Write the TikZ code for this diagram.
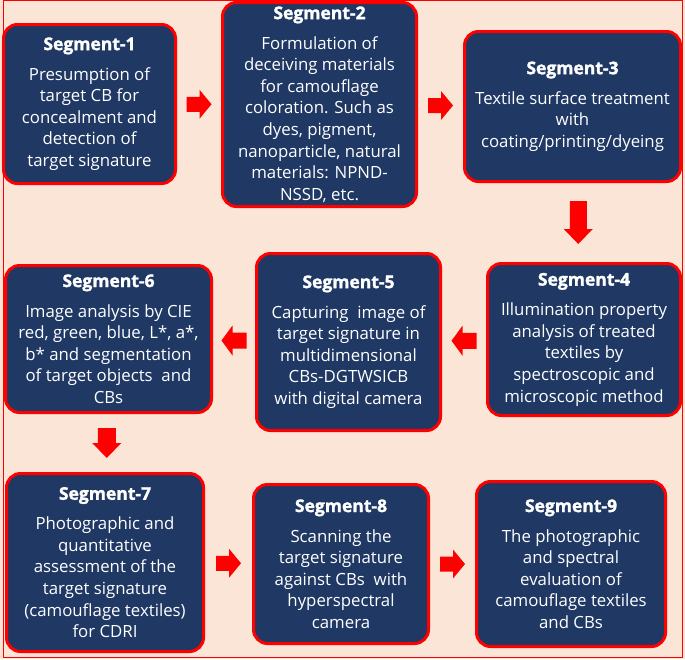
\documentclass[tikz,border=0pt]{standalone}
\usepackage{fontspec}
\setmainfont{Open Sans}
\newfontfamily\hdfont{Open Sans}[BoldFeatures={FakeBold=1.6}]
\usetikzlibrary{calc}
\definecolor{bgpeach}{HTML}{FBE5D6}
\definecolor{navy}{HTML}{1F3864}
\definecolor{brdred}{HTML}{FF0000}
\tikzset{
  seg/.style={draw=brdred, line width=3pt, fill=navy, rounded corners=14pt,
    text=white, align=center, inner sep=0pt,
    font=\fontsize{16.8}{21.6}\selectfont},
  pics/barrow/.style n args={4}{code={
    \fill[brdred] (-#1/2,-#2) -- (#1/2-#4,-#2) -- (#1/2-#4,-#3) -- (#1/2,0)
      -- (#1/2-#4,#3) -- (#1/2-#4,#2) -- (-#1/2,#2) -- cycle;}}
}
\newcommand{\hd}[1]{{\hdfont\bfseries\fontsize{17.5}{21.6}\selectfont #1}\\[8.4pt]}
\begin{document}
\begin{tikzpicture}[x=1pt,y=-1pt]
\useasboundingbox (0,0) rectangle (685,659);
\fill[bgpeach] (0,0) rectangle (685,659);
\draw[brdred, line width=1pt] (3,0.5) rectangle (682,657.5);

\node[seg, minimum width=172pt, minimum height=159pt] (s1) at (89.5,104)
  {\hd{Segment-1}Presumption of\\target CB for\\concealment and\\detection of\\target signature};
\node[seg, minimum width=194pt, minimum height=204pt] (s2) at (319.5,104.5)
  {\hd{Segment-2}Formulation of\\deceiving materials\\for camouflage\\coloration. Such as\\dyes, pigment,\\nanoparticle, natural\\materials: NPND-\\NSSD, etc.};
\node[seg, minimum width=216pt, minimum height=150pt] (s3) at (572.5,106.5)
  {\hd{Segment-3}Textile surface treatment\\with\\coating/printing/dyeing};
\node[seg, minimum width=193pt, minimum height=152pt] (s4) at (584,339.5)
  {\hd{Segment-4}Illumination property\\analysis of treated\\textiles by\\spectroscopic and\\microscopic method};
\node[seg, minimum width=184pt, minimum height=177pt] (s5) at (348.5,342)
  {\hd{Segment-5}Capturing\ \ image of\\target signature in\\multidimensional\\CBs-DGTWSICB\\with digital camera};
\node[seg, minimum width=206pt, minimum height=147pt] (s6) at (108.5,339)
  {\hd{Segment-6}Image analysis by CIE\\red, green, blue, L*, a*,\\b* and segmentation\\of target objects\ \ and\\CBs};
\node[seg, minimum width=197pt, minimum height=178pt] (s7) at (105,562.5)
  {\hd{Segment-7}Photographic and\\quantitative\\assessment of the\\target signature\\(camouflage textiles)\\for CDRI};
\node[seg, minimum width=175pt, minimum height=159pt] (s8) at (341,564)
  {\hd{Segment-8}Scanning the\\target signature\\against CBs\ \ with\\hyperspectral\\camera};
\node[seg, minimum width=189pt, minimum height=165pt] (s9) at (571,564)
  {\hd{Segment-9}The photographic\\and spectral\\evaluation of\\camouflage textiles\\and CBs};

\pic at ($(s1.east)!0.5!(s2.west)$) {barrow={25}{7.5}{14.5}{12}};
\pic at ($(s2.east)!0.5!(s3.west)$) {barrow={25}{7.5}{14.5}{12}};
\pic[rotate=-90] at ($(s3.south)!0.5!(s4.north)$) {barrow={43}{8.5}{14.5}{15}};
\pic[rotate=180] at ($(s4.west)!0.5!(s5.east)$) {barrow={25}{8}{15}{11}};
\pic[rotate=180] at ($(s5.west)!0.5!(s6.east)$) {barrow={25}{8}{15}{11}};
\pic[rotate=-90] at ($(s6.south)!0.5!(s7.north)$) {barrow={30}{9}{14.5}{15}};
\pic at ($(s7.east)!0.5!(s8.west)$) {barrow={25}{7.5}{14.5}{12}};
\pic at ($(s8.east)!0.5!(s9.west)$) {barrow={25}{7.5}{14.5}{12}};
\end{tikzpicture}
\end{document}
